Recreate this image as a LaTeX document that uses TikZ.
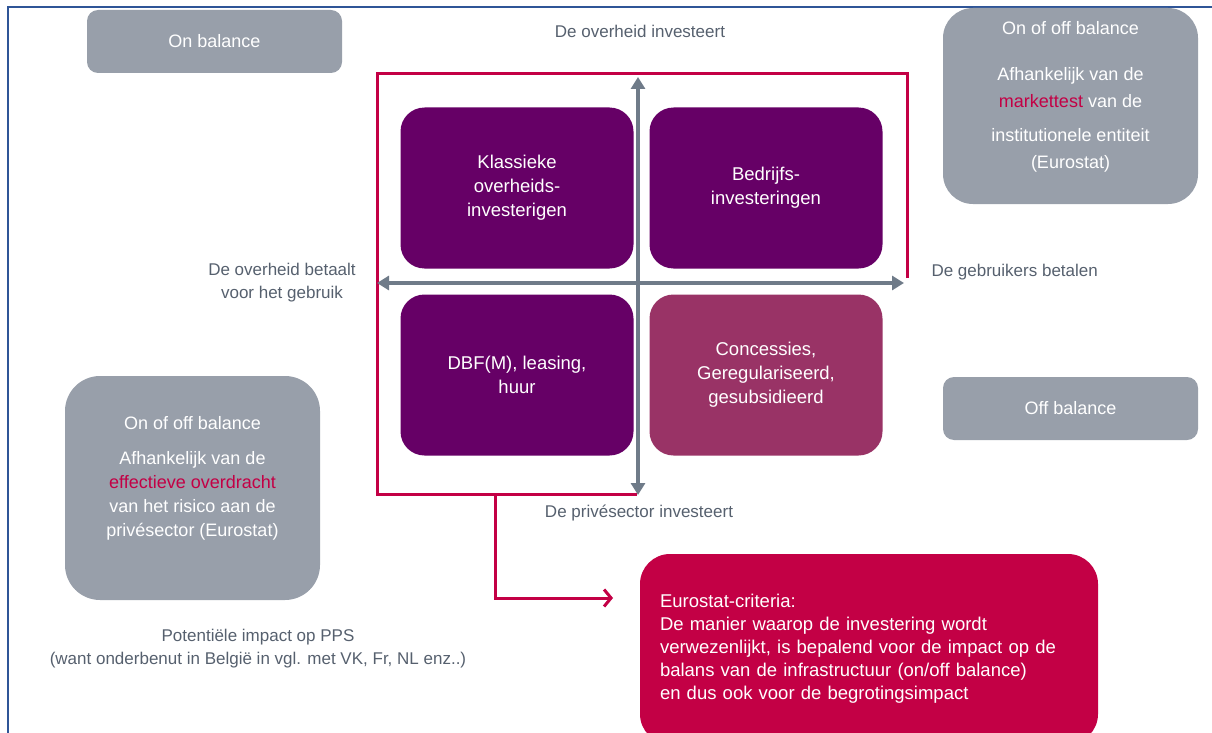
\documentclass[tikz,border=0pt]{standalone}
\usepackage{fontspec}
\setmainfont{Liberation Sans}
\usetikzlibrary{arrows.meta}
\definecolor{boxgray}{RGB}{152,159,170}
\definecolor{quadpurple}{RGB}{102,0,102}
\definecolor{quadrose}{RGB}{153,51,102}
\definecolor{eurored}{RGB}{195,0,69}
\definecolor{axisgray}{RGB}{111,123,137}
\definecolor{labelgray}{RGB}{86,96,110}
\definecolor{frameblue}{RGB}{47,85,151}
\tikzset{
  quadbox/.style={fill=quadpurple,rounded corners=24pt,minimum width=233pt,minimum height=161pt,align=center,text=white,font=\fontsize{18.5}{24}\selectfont},
  graybox/.style={fill=boxgray,minimum width=255pt,align=center,text=white,font=\fontsize{18}{24}\selectfont},
  axislabel/.style={text=labelgray,align=center,font=\fontsize{17}{23}\selectfont},
  axisline/.style={draw=axisgray,line width=4pt,{Triangle[length=12pt,width=14pt]}-{Triangle[length=12pt,width=14pt]}},
  redline/.style={draw=eurored,line width=3pt}
}

\begin{document}
\begin{tikzpicture}[x=1pt,y=-1pt]
\useasboundingbox (0,0) rectangle (1212,733);
\draw[frameblue,line width=1.5pt] (8,745) -- (8,7) -- (1220,7);
\node[graybox,rounded corners=11pt,minimum height=63pt] (onbal) at (214.5,41.5) {On balance};
\node[graybox,rounded corners=30pt,minimum height=196pt,text depth=22pt,font=\fontsize{18}{27}\selectfont] (mkttest) at (1070.5,106) {On of off balance\\[19pt]Afhankelijk van de\\{\color{eurored}markettest} van de\\[7pt]institutionele entiteit\\(Eurostat)};
\node[graybox,rounded corners=11pt,minimum height=63pt] (offbal) at (1070.5,408.5) {Off balance};
\node[graybox,rounded corners=35pt,minimum height=224pt,text depth=23pt] (risico) at (192.5,488) {On of off balance\\[11pt]Afhankelijk van de\\{\color{eurored}effectieve overdracht}\\van het risico aan de\\privésector (Eurostat)};
\draw[redline] (907,278) -- (907,74) -- (377,74) -- (377,494) -- (637,494);
\coordinate (fbranch) at (495,494);
\coordinate (critin) at (613,598);
\draw[redline,-{Straight Barb[length=7pt,width=17pt]}] (fbranch) |- (critin);
\node[quadbox] (klass) at (517,188) {Klassieke\\overheids-\\investerigen};
\node[quadbox] (bedr) at (766,188) {Bedrijfs-\\investeringen};
\node[quadbox] (dbfm) at (517,375) {DBF(M), leasing,\\huur};
\node[quadbox,fill=quadrose] (conc) at (766,375) {Concessies,\\Geregulariseerd,\\gesubsidieerd};
\coordinate (vtop) at (638,77);
\coordinate (vbot) at (638,495);
\coordinate (hleft) at (377,283);
\coordinate (hright) at (904,283);
\draw[axisline] (vbot) -- (vtop);
\draw[axisline] (hleft) -- (hright);
\node[axislabel] (ovinv) at (640,31) {De overheid investeert};
\node[axislabel] (ovbet) at (282,283) {De overheid betaalt\\voor het gebruik};
\node[axislabel,anchor=west] (gebbet) at (928,272) {De gebruikers betalen};
\node[axislabel] (privinv) at (639,513) {De privésector investeert};
\node[axislabel] (pps) at (258,649) {Potentiële impact op PPS\\(want onderbenut in België in vgl. met VK, Fr, NL enz..)};
\node[fill=eurored,rounded corners=30pt,minimum width=458pt,minimum height=190pt,inner xsep=20pt,text width=418pt,align=left,text=white,font=\fontsize{18.5}{23}\selectfont] (crit) at (869,649) {Eurostat-criteria:\\De manier waarop de investering wordt\\verwezenlijkt, is bepalend voor de impact op de\\balans van de infrastructuur (on/off balance)\\en dus ook voor de begrotingsimpact};
\end{tikzpicture}
\end{document}
